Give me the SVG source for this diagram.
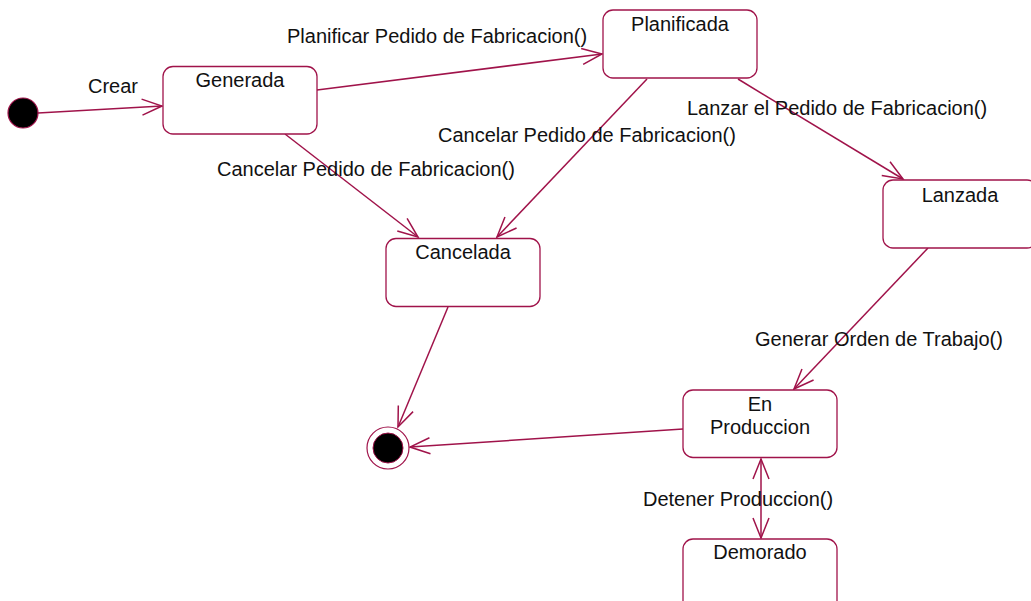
<svg xmlns="http://www.w3.org/2000/svg" width="1031" height="601" viewBox="0 0 1031 601">
<style>
.st{fill:#fff;stroke:#a0134a;stroke-width:1.3}
.t{font-family:"Liberation Sans",Arial,sans-serif;font-size:20px;fill:#111}
.c{text-anchor:middle}
.ln{stroke:#a0134a;stroke-width:1.5;fill:none}
</style>
<defs>
<marker id="a" markerUnits="userSpaceOnUse" markerWidth="30" markerHeight="30" viewBox="-25 -15 30 30" refX="0" refY="0" orient="auto-start-reverse">
<path d="M-20,-8 L0,0 L-20,8" fill="none" stroke="#a0134a" stroke-width="1.5"/>
</marker>
</defs>
<rect width="1031" height="601" fill="#fff"/>
<g id="connectors">
<line class="ln" x1="38" y1="113" x2="162" y2="106" marker-end="url(#a)"/>
<line class="ln" x1="317" y1="90" x2="602" y2="54" marker-end="url(#a)"/>
<line class="ln" x1="738" y1="79" x2="903" y2="179" marker-end="url(#a)"/>
<line class="ln" x1="647" y1="79" x2="497" y2="237" marker-end="url(#a)"/>
<line class="ln" x1="285" y1="134" x2="418" y2="237" marker-end="url(#a)"/>
<line class="ln" x1="448" y1="307" x2="398" y2="427" marker-end="url(#a)"/>
<line class="ln" x1="928" y1="248" x2="794" y2="389" marker-end="url(#a)"/>
<line class="ln" x1="683" y1="429" x2="410" y2="447" marker-end="url(#a)"/>
<line class="ln" x1="761" y1="459" x2="761" y2="538" marker-start="url(#a)" marker-end="url(#a)"/>
<text class="t" x="88" y="93">Crear</text>
<text class="t" x="287" y="43">Planificar Pedido de Fabricacion()</text>
<text class="t" x="687" y="115">Lanzar el Pedido de Fabricacion()</text>
<text class="t" x="438" y="142">Cancelar Pedido de Fabricacion()</text>
<text class="t" x="217" y="176">Cancelar Pedido de Fabricacion()</text>
<text class="t" x="755" y="346">Generar Orden de Trabajo()</text>
<text class="t" x="643" y="506">Detener Produccion()</text>
</g>
<g id="initial"><circle cx="23" cy="113" r="15" fill="#000" stroke="#a0134a" stroke-width="1.2"/></g>
<g id="final"><circle cx="388" cy="448" r="21" fill="#fff" stroke="#a0134a" stroke-width="1.2"/><circle cx="388" cy="448" r="15" fill="#000" stroke="#a0134a" stroke-width="1"/></g>
<g id="generada"><rect class="st" x="163" y="66.5" width="154" height="67.5" rx="10"/><text class="t c" x="240" y="87">Generada</text></g>
<g id="planificada"><rect class="st" x="603" y="10" width="154" height="68" rx="10"/><text class="t c" x="680" y="31">Planificada</text></g>
<g id="lanzada"><rect class="st" x="883" y="180" width="154" height="68" rx="10"/><text class="t c" x="960" y="202">Lanzada</text></g>
<g id="cancelada"><rect class="st" x="386" y="238.5" width="154" height="68" rx="10"/><text class="t c" x="463" y="259">Cancelada</text></g>
<g id="enproduccion"><rect class="st" x="683" y="390" width="154" height="67.5" rx="10"/><text class="t c" x="760" y="411">En</text><text class="t c" x="760" y="434">Produccion</text></g>
<g id="demorado"><rect class="st" x="683" y="539" width="154" height="80" rx="10"/><text class="t c" x="760" y="559">Demorado</text></g>
</svg>
